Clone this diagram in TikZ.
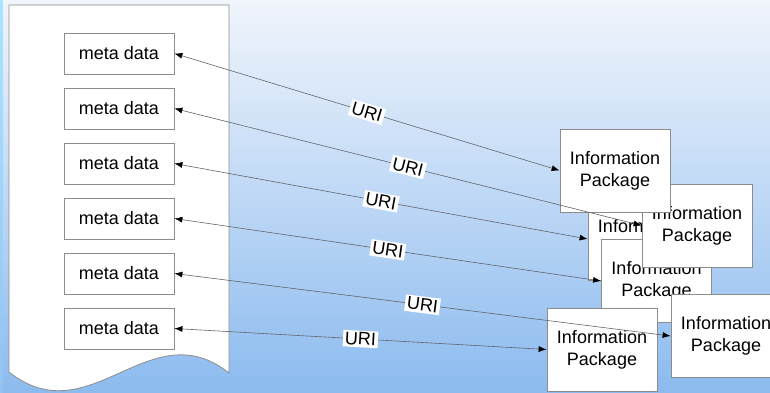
\documentclass[tikz,border=0pt]{standalone}
\usepackage{fontspec}
\setmainfont{Liberation Sans}
\usetikzlibrary{arrows.meta}
\definecolor{bgtop}{RGB}{241,245,252}
\definecolor{bgbot}{RGB}{140,187,239}
\definecolor{edgegray}{RGB}{140,140,140}
\definecolor{linegray}{RGB}{100,100,105}
\definecolor{strip}{RGB}{170,228,255}
\tikzset{
  metabox/.style={draw=edgegray, fill=white, line width=0.8pt, minimum width=110pt, minimum height=41pt, inner sep=0pt, font=\fontsize{18}{22}\selectfont, text=black},
  ipbox/.style={draw=edgegray, fill=white, line width=0.8pt, minimum width=110pt, minimum height=83pt, inner sep=0pt, align=center, font=\fontsize{18}{22}\selectfont, text=black},
  link/.style={draw=linegray, line width=0.6pt, {Latex[length=8pt,width=6pt,color=black]}-{Latex[length=8pt,width=6pt,color=black]}},
  urilabel/.style={midway, sloped, fill=white, inner sep=2pt, font=\fontsize{18}{20}\selectfont, text=black}
}
\begin{document}
\begin{tikzpicture}[x=1pt,y=-1pt]
\useasboundingbox (0,0) rectangle (770,392);
\shade[top color=bgtop, bottom color=bgbot] (0,0) rectangle (770,392);
\shade[top color=strip, bottom color=bgbot!80!strip] (0,0) rectangle (2.5,392);
% document shape
\draw[edgegray, fill=white, line width=0.8pt] (9,5) -- (229,5) -- (229,373)
  .. controls (150,310) and (90,436) .. (9,372) -- cycle;
% meta data boxes
\foreach \i in {1,...,6} {
  \node[metabox] (m\i) at (119,{53.5+55*(\i-1)}) {meta data};
}
% information packages (stacking order)
\node[ipbox] (ip3) at (643,239) {Information\\Package};
\node[ipbox] (ip4) at (656.5,281) {Information\\Package};
\node[ipbox] (ip2) at (697,225.5) {Information\\Package};
\node[ipbox] (ip1) at (615,170.5) {Information\\Package};
\node[ipbox] (ip5) at (726,336) {Information\\Package};
\node[ipbox] (ip6) at (602,349.5) {Information\\Package};
% links
\draw[link] (m1.east) -- node[urilabel] {URI} (ip1.west);
\draw[link] (m2.east) -- node[urilabel] {URI} (ip2.west);
\draw[link] (m3.east) -- node[urilabel] {URI} (ip3.west);
\draw[link] (m4.east) -- node[urilabel] {URI} (ip4.west);
\draw[link] (m5.east) -- node[urilabel] {URI} (ip5.west);
\draw[link] (m6.east) -- node[urilabel] {URI} (ip6.west);
\end{tikzpicture}
\end{document}
